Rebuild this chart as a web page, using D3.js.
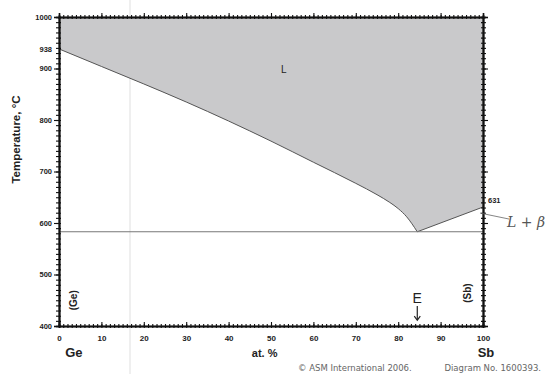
<!DOCTYPE html>
<html>
<head>
<meta charset="utf-8">
<script src="https://cdn.jsdelivr.net/npm/d3@7"></script>
<style>
  body { margin: 0; background: #fff; }
  svg { display: block; }
  .tick text { font-family: Arial, "Liberation Sans", sans-serif; font-weight: bold; }
</style>
</head>
<body>
<div id="graph-container"></div>
<script>
// composition axis (at. % Sb) and temperature axis
const xTicks = [0, 10, 20, 30, 40, 50, 60, 70, 80, 90, 100];
const yTicks = [400, 500, 600, 700, 800, 900, 1000];

// liquidus: [at.% Sb, °C]
const liquidusGe = [[0, 938], [10, 904], [20, 870], [30, 835], [40, 798], [50, 759],
  [60, 718], [70, 677], [75, 655], [78, 640], [80, 628], [82, 612], [84.5, 583]];
const liquidusSb = [[84.5, 583], [100, 631]];
const eutecticT = 583;
const eutecticX = 84.5;
const meltGe = 938;
const meltSb = 631;

const width = 547, height = 374;
const margin = {left: 59, right: 64, top: 17, bottom: 48};

const svg = d3.select('#graph-container')
  .append('svg')
  .attr('width', width)
  .attr('height', height);

const x = d3.scaleLinear().domain([0, 100]).range([margin.left, width - margin.right]);
const y = d3.scaleLinear().domain([400, 1000]).range([height - margin.bottom, margin.top]);

// faint scan streak
svg.append('line')
  .attr('x1', 130).attr('x2', 130)
  .attr('y1', 0).attr('y2', height)
  .attr('stroke', '#efefef').attr('stroke-width', 2);

// liquidus: smooth Ge branch, straight Sb branch
const geLine = d3.line()
  .x(d => x(d[0]))
  .y(d => y(d[1]))
  .curve(d3.curveMonotoneX);
const sbLine = d3.line()
  .x(d => x(d[0]))
  .y(d => y(d[1]));
const liquidusPath = geLine(liquidusGe) + sbLine(liquidusSb).replace(/^M/, 'L');

// liquid field
svg.append('path')
  .attr('fill', '#c9c9cb')
  .attr('d', `M${x(0)},${y(1000)}` + liquidusPath.replace(/^M/, 'L') + `L${x(100)},${y(1000)}Z`);

svg.append('path')
  .attr('fill', 'none')
  .attr('stroke', '#555')
  .attr('stroke-width', 1)
  .attr('d', liquidusPath);

// eutectic line
svg.append('line')
  .attr('x1', x(0)).attr('x2', x(100))
  .attr('y1', y(eutecticT)).attr('y2', y(eutecticT))
  .attr('stroke', '#777').attr('stroke-width', 1.2);

// axes: minor ticks first, then major ones with labels
const minorX = d3.range(0, 101, 1);
const minorY = d3.range(400, 1001, 10);

function minor(axis, vals, size) {
  return axis.tickValues(vals).tickSize(size).tickFormat('');
}

const bottom = height - margin.bottom;
const right = width - margin.right;

svg.append('g').attr('transform', `translate(0,${bottom})`)
  .call(minor(d3.axisBottom(x), minorX, 2));
svg.append('g').attr('transform', `translate(0,${bottom})`)
  .call(minor(d3.axisTop(x), minorX, 2));
svg.append('g').attr('transform', `translate(0,${margin.top})`)
  .call(minor(d3.axisTop(x), minorX, 2));
svg.append('g').attr('transform', `translate(0,${margin.top})`)
  .call(minor(d3.axisBottom(x), minorX, 2));
svg.append('g').attr('transform', `translate(${margin.left},0)`)
  .call(minor(d3.axisLeft(y), minorY, 3));
svg.append('g').attr('transform', `translate(${margin.left},0)`)
  .call(minor(d3.axisRight(y), minorY, 2));
svg.append('g').attr('transform', `translate(${right},0)`)
  .call(minor(d3.axisRight(y), minorY, 3));
svg.append('g').attr('transform', `translate(${right},0)`)
  .call(minor(d3.axisLeft(y), minorY, 2));

svg.append('g').attr('class', 'xaxis')
  .attr('transform', `translate(0,${bottom})`)
  .call(d3.axisBottom(x).tickValues(xTicks).tickSize(-4).tickPadding(9))
  .call(g => g.selectAll('text').attr('font-size', 8).attr('fill', '#222'));
svg.append('g')
  .attr('transform', `translate(0,${margin.top})`)
  .call(d3.axisTop(x).tickValues(xTicks).tickSize(4).tickFormat(''));
svg.append('g')
  .attr('transform', `translate(${margin.left},0)`)
  .call(d3.axisLeft(y).tickValues(yTicks).tickSize(5).tickPadding(2).tickFormat(d3.format('d')))
  .call(g => g.selectAll('text').attr('font-size', 7.5).attr('fill', '#222'));
svg.append('g')
  .attr('transform', `translate(${right},0)`)
  .call(d3.axisRight(y).tickValues(yTicks).tickSize(5).tickFormat(''));

svg.selectAll('.domain').attr('stroke', '#111').attr('stroke-width', 1.6);
svg.selectAll('.tick line').attr('stroke', '#111').attr('stroke-width', 1.1);

// melting point labels
svg.append('text')
  .attr('x', x(0) - 7).attr('y', y(meltGe) + 3)
  .attr('text-anchor', 'end')
  .attr('font-family', 'Arial, sans-serif').attr('font-weight', 'bold')
  .attr('font-size', 7.5).attr('fill', '#222')
  .text(meltGe);
svg.append('text')
  .attr('x', x(100) + 5).attr('y', y(meltSb) - 4)
  .attr('font-family', 'Arial, sans-serif').attr('font-weight', 'bold')
  .attr('font-size', 7.5).attr('fill', '#222')
  .text(meltSb);

// handwritten note
svg.append('path')
  .attr('d', `M${x(100) - 3},${y(meltSb) + 6} L${x(100) + 26},${y(meltSb) + 12}`)
  .attr('stroke', '#666').attr('stroke-width', 0.8).attr('fill', 'none');
svg.append('text')
  .attr('x', 545).attr('y', y(meltSb) + 20)
  .attr('text-anchor', 'end')
  .attr('font-family', '"DejaVu Serif", serif').attr('font-style', 'italic')
  .attr('font-size', 14).attr('fill', '#555')
  .text('L + β');

// phase labels
const label = (t, px, py, size, opts = {}) => svg.append('text')
  .attr('x', px).attr('y', py)
  .attr('text-anchor', opts.anchor || 'middle')
  .attr('font-family', 'Arial, "Liberation Sans", sans-serif')
  .attr('font-weight', opts.weight || 'normal')
  .attr('font-size', size)
  .attr('fill', opts.fill || '#222')
  .attr('transform', opts.rotate ? `rotate(-90,${px},${py})` : null)
  .text(t);

label('L', x(53), y(892), 10);
label('(Ge)', x(3.5) + 3, y(450), 10, {rotate: true, weight: 'bold'});
label('(Sb)', x(96.5) + 3, y(464), 10, {rotate: true, weight: 'bold'});
label('E', x(eutecticX), y(445), 14);
svg.append('line')
  .attr('x1', x(eutecticX)).attr('x2', x(eutecticX))
  .attr('y1', y(439)).attr('y2', y(413))
  .attr('stroke', '#222').attr('stroke-width', 1.2);
svg.append('path')
  .attr('d', `M${x(eutecticX) - 3},${y(419)} L${x(eutecticX)},${y(411)} L${x(eutecticX) + 3},${y(419)}`)
  .attr('fill', 'none').attr('stroke', '#222').attr('stroke-width', 1.2);

label('Temperature, °C', 20, (margin.top + bottom) / 2 - 32, 11.5, {rotate: true, weight: 'bold'});
label('Ge', x(3.5), 357, 13, {weight: 'bold'});
label('at. %', x(48.5), 357, 11, {weight: 'bold'});
label('Sb', x(100) + 3, 357, 13, {weight: 'bold'});
label('© ASM International 2006.', 298, 371, 8.5, {anchor: 'start', fill: '#666'})
  .attr('font-family', 'Verdana, "DejaVu Sans", sans-serif');
label('Diagram No. 1600393.', 541, 371, 8.5, {anchor: 'end', fill: '#666'})
  .attr('font-family', 'Verdana, "DejaVu Sans", sans-serif');
</script>
</body>
</html>
